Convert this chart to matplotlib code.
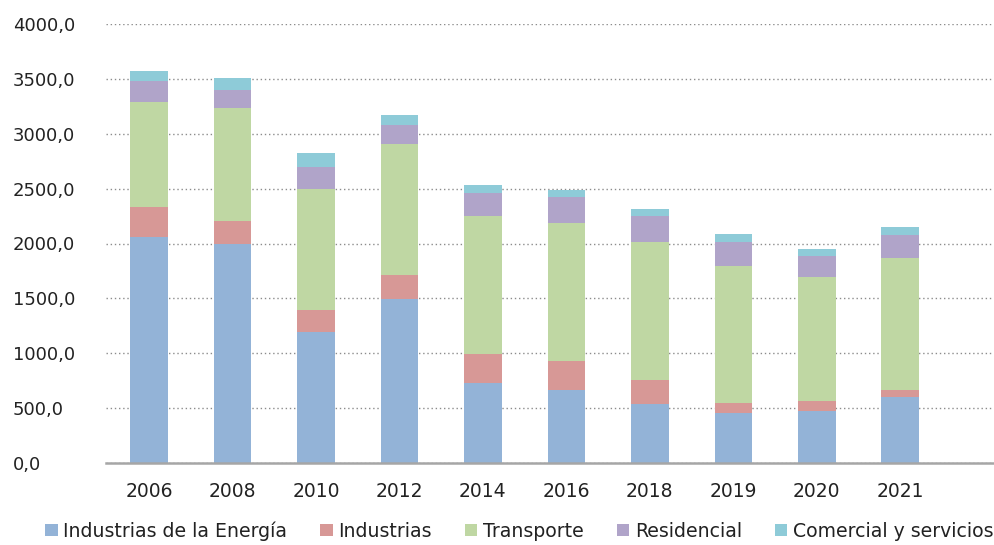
import matplotlib
matplotlib.use("Agg")
import matplotlib.pyplot as plt
import numpy as np

years = ["2006", "2008", "2010", "2012", "2014", "2016", "2018", "2019", "2020", "2021"]
energia = [2059, 1993, 1194, 1497, 729, 668, 540, 456, 474, 601]
industrias = [274, 212, 200, 216, 264, 261, 213, 91, 91, 67]
transporte = [959, 1027, 1100, 1191, 1255, 1255, 1264, 1251, 1130, 1197]
residencial = [192, 167, 200, 176, 215, 237, 236, 219, 188, 213]
comercial = [88, 109, 131, 91, 70, 67, 61, 70, 67, 72]

series = [
    ("Industrias de la Energía", energia, "#93b3d7"),
    ("Industrias", industrias, "#d79896"),
    ("Transporte", transporte, "#bfd7a3"),
    ("Residencial", residencial, "#b0a4c9"),
    ("Comercial y servicios", comercial, "#8ecbd8"),
]

plt.rcParams['font.family'] = ['DejaVu Sans']
fig = plt.figure(figsize=(9.95, 5.45), dpi=100)
ax = fig.add_axes([106 / 995, 1 - 463 / 545, 889 / 995, 439 / 545])

x = np.arange(len(years))
bottom = np.zeros(len(years))
for name, vals, col in series:
    ax.bar(x, vals, 0.45, bottom=bottom, color=col, label=name, zorder=2)
    bottom += np.array(vals)

ax.set_xlim(-0.515, 10.135)
ax.set_ylim(0, 4000)
ax.set_yticks(np.arange(0, 4001, 500))
ax.set_yticklabels([f"{v:.1f}".replace(".", ",") for v in np.arange(0, 4001, 500)],
                   ha="left", fontsize=13, color="#222222")
# pad in points: ~93 px from axis to label start
ax.tick_params(axis="y", length=0, pad=67)
ax.set_xticks(x)
ax.set_xticklabels(years, fontsize=13.5, color="#222222")
ax.tick_params(axis="x", length=0, pad=14)

ax.grid(axis="y", linestyle=(0, (1, 2)), color="#8c8c8c", linewidth=1, zorder=0)
for s in ["top", "right", "left"]:
    ax.spines[s].set_visible(False)
ax.spines["bottom"].set_color("#a6a6a6")
ax.spines["bottom"].set_linewidth(1.8)
ax.spines["bottom"].set_zorder(3)

fig.legend(loc="center", bbox_to_anchor=(0.522, 1 - 531 / 545), ncol=5, frameon=False,
           fontsize=13.6, handlelength=0.65, handleheight=0.65, handletextpad=0.3,
           columnspacing=1.75, labelcolor="#222222")

fig.savefig("out.png", dpi=100)
